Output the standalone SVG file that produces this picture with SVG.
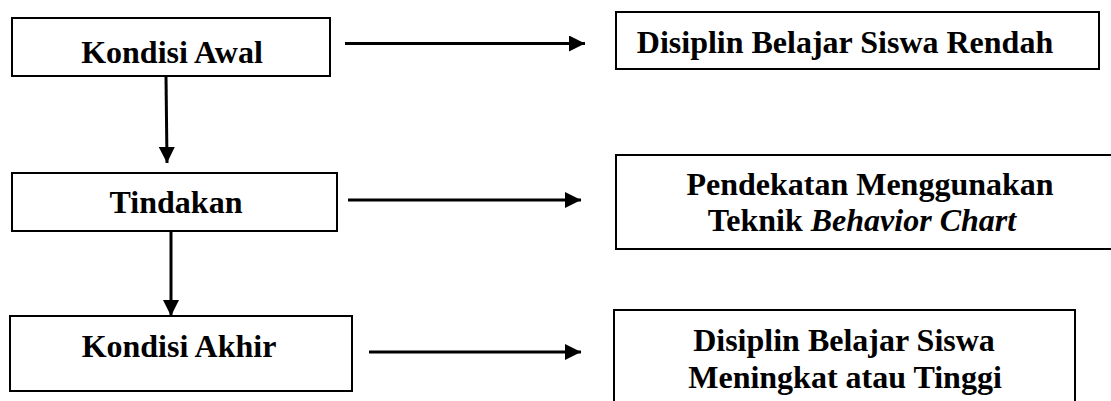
<svg xmlns="http://www.w3.org/2000/svg" width="1111" height="401" viewBox="0 0 1111 401">
<style>
.box{fill:#fff;stroke:#000;stroke-width:2}
.t{font-family:"Liberation Serif","Times New Roman",serif;font-weight:bold;font-size:32px;fill:#000;text-anchor:middle}
.c{stroke:#000;stroke-width:3;fill:none}
</style>
<defs>
<marker id="ah" markerUnits="userSpaceOnUse" markerWidth="16" markerHeight="16" viewBox="0 0 16 16" refX="16" refY="8" orient="auto">
<path d="M0,0 L16,8 L0,16 Z" fill="#000"/>
</marker>
</defs>
<rect width="1111" height="401" fill="#fff"/>
<g id="n1"><rect class="box" x="12" y="18" width="318" height="58"/><text class="t" x="172" y="63">Kondisi Awal</text></g>
<g id="n2"><rect class="box" x="616" y="12" width="483" height="57"/><text class="t" x="845" y="53">Disiplin Belajar Siswa Rendah</text></g>
<g id="n3"><rect class="box" x="12" y="173" width="325" height="58"/><text class="t" x="176" y="213">Tindakan</text></g>
<g id="n4"><rect class="box" x="616" y="155" width="500" height="94"/><text class="t" x="870" y="195">Pendekatan Menggunakan</text><text class="t" x="862" y="231">Teknik <tspan font-style="italic">Behavior Chart</tspan></text></g>
<g id="n5"><rect class="box" x="10" y="316" width="342" height="75"/><text class="t" x="179" y="357">Kondisi Akhir</text></g>
<g id="n6"><rect class="box" x="614" y="310" width="461" height="100"/><text class="t" x="844" y="351">Disiplin Belajar Siswa</text><text class="t" x="845" y="388">Meningkat atau Tinggi</text></g>
<g id="connectors">
<line class="c" x1="345" y1="43.5" x2="585" y2="43.5" marker-end="url(#ah)"/>
<line class="c" x1="348" y1="200" x2="581" y2="200" marker-end="url(#ah)"/>
<line class="c" x1="369" y1="352" x2="581" y2="352" marker-end="url(#ah)"/>
<line class="c" x1="166" y1="76" x2="167" y2="163" marker-end="url(#ah)"/>
<line class="c" x1="171" y1="231" x2="171" y2="316" marker-end="url(#ah)"/>
</g>
</svg>
